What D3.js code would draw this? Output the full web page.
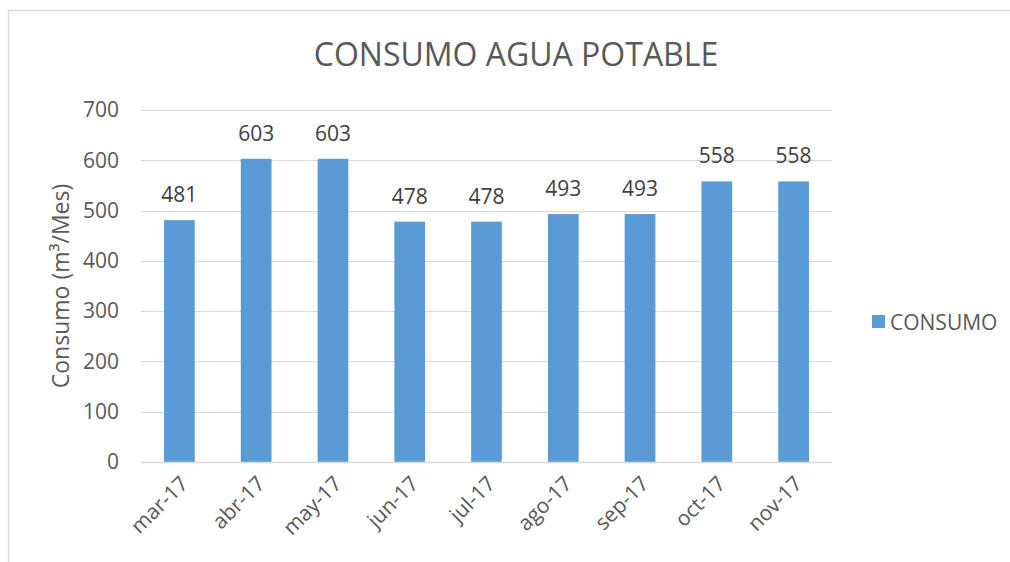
<!DOCTYPE html>
<html>
<head>
<meta charset="utf-8">
<script src="https://cdn.jsdelivr.net/npm/d3@7"></script>
<style>
  body { margin: 0; background: #fff; }
  text { font-family: "Open Sans", "Noto Sans", sans-serif; }
</style>
</head>
<body>
<div class="chart"></div>
<script>
// chart data
var months = ["mar-17", "abr-17", "may-17", "jun-17", "jul-17", "ago-17", "sep-17", "oct-17", "nov-17"];
var consumo = [481, 603, 603, 478, 478, 493, 493, 558, 558];
var yTicks = [0, 100, 200, 300, 400, 500, 600, 700];

var width = 1010, height = 562;
var plotLeft = 141, plotRight = 832, plotTop = 110, plotBottom = 462;

var svg = d3.select(".chart").append("svg").attr("width", width).attr("height", height);

// outer border (top + left only visible)
svg.append("line").attr("x1", 8).attr("x2", width).attr("y1", 10.5).attr("y2", 10.5)
   .attr("stroke", "#d9d9d9").attr("stroke-width", 1.5);
svg.append("line").attr("x1", 8.5).attr("x2", 8.5).attr("y1", 10).attr("y2", height)
   .attr("stroke", "#d9d9d9").attr("stroke-width", 1.5);

var x = d3.scaleBand().domain(months).range([plotLeft, plotRight]).paddingInner(0.6).paddingOuter(0.3);
var y = d3.scaleLinear().domain([0, 700]).range([plotBottom, plotTop]);

// gridlines
svg.append("g").selectAll("line").data(yTicks.slice(1)).enter().append("line")
   .attr("x1", plotLeft).attr("x2", plotRight)
   .attr("y1", function(d){ return Math.round(y(d)) + 0.5; })
   .attr("y2", function(d){ return Math.round(y(d)) + 0.5; })
   .attr("stroke", "#d9d9d9").attr("stroke-width", 1);

// y axis
var yAxis = svg.append("g").attr("transform", "translate(" + plotLeft + ",0)")
   .call(d3.axisLeft(y).tickValues(yTicks).tickSize(0).tickPadding(22));
yAxis.select(".domain").remove();
yAxis.selectAll("text").attr("font-size", 21).attr("fill", "#595959")
   .attr("font-family", "Open Sans, sans-serif");

// bars
svg.append("g").selectAll("rect").data(consumo).enter().append("rect")
   .attr("x", function(d, i){ return x(months[i]); })
   .attr("y", function(d){ return y(d); })
   .attr("width", x.bandwidth())
   .attr("height", function(d){ return y(0) - y(d); })
   .attr("fill", "#5b9bd5");

// baseline
svg.append("line").attr("x1", plotLeft).attr("x2", plotRight)
   .attr("y1", plotBottom + 0.5).attr("y2", plotBottom + 0.5)
   .attr("stroke", "#d9d9d9").attr("stroke-width", 1.5);

// data labels
svg.append("g").selectAll("text").data(consumo).enter().append("text")
   .attr("x", function(d, i){ return x(months[i]) + x.bandwidth() / 2; })
   .attr("y", function(d){ return y(d) - 18; })
   .attr("text-anchor", "middle")
   .attr("font-size", 21).attr("fill", "#404040")
   .text(function(d){ return d; });

// x axis labels
var xAxis = svg.append("g").attr("transform", "translate(0," + plotBottom + ")")
   .call(d3.axisBottom(x).tickSize(0).tickPadding(0));
xAxis.select(".domain").remove();
xAxis.selectAll("text")
   .attr("font-size", 21).attr("fill", "#595959")
   .attr("font-family", "Open Sans, sans-serif")
   .attr("text-anchor", "end")
   .attr("dy", 0)
   .attr("transform", "translate(10,23) rotate(-45)");

// title
svg.append("text").attr("x", 516).attr("y", 66).attr("text-anchor", "middle")
   .attr("font-size", 32).attr("fill", "#595959")
   .text("CONSUMO AGUA POTABLE");

// y axis title
svg.append("text").attr("transform", "translate(69,286) rotate(-90)")
   .attr("text-anchor", "middle").attr("font-size", 23).attr("fill", "#595959")
   .text("Consumo (m³/Mes)");

// legend
svg.append("rect").attr("x", 872).attr("y", 315).attr("width", 13).attr("height", 13).attr("fill", "#5b9bd5");
svg.append("text").attr("x", 890).attr("y", 330).attr("font-size", 21).attr("fill", "#595959")
   .text("CONSUMO");
</script>
</body>
</html>
